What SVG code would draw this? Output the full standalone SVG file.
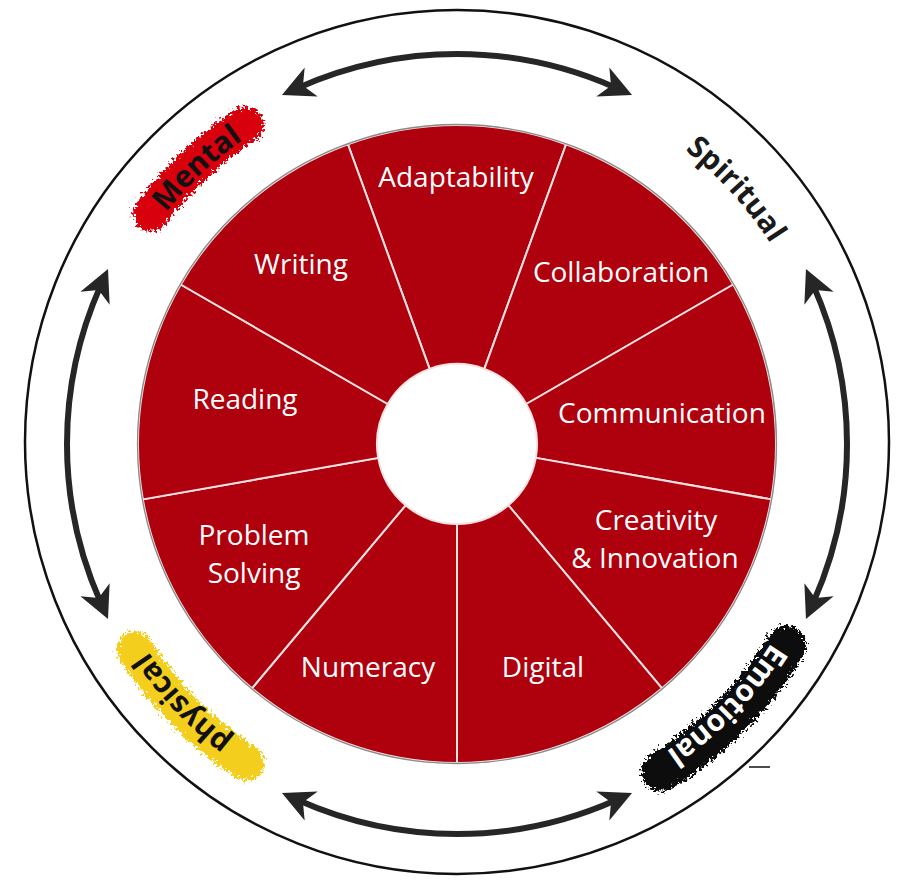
<svg xmlns="http://www.w3.org/2000/svg" width="897" height="880" viewBox="0 0 897 880">
<defs>
<style>
.seg{fill:#AF000D;stroke:#F2E2E2;stroke-width:2}
.lbl{font-family:"Open Sans","Noto Sans",sans-serif;font-size:28px;fill:#fff;text-anchor:middle}
.dim{font-family:"Open Sans","Noto Sans",sans-serif;font-size:30px;font-weight:700;text-anchor:middle}
.arc{fill:none;stroke:#262626;stroke-width:6;marker-start:url(#ah);marker-end:url(#ah)}
.brush{fill:none;stroke-linecap:round;filter:url(#rough)}
</style>
<marker id="ah" markerUnits="userSpaceOnUse" markerWidth="40" markerHeight="40" viewBox="-32 -20 40 40" refX="-16" refY="0" orient="auto-start-reverse" overflow="visible">
<path d="M2,0 L-30,-16 L-21,0 L-30,16 Z" fill="#262626"/>
</marker>
<filter id="rough" x="-30%" y="-30%" width="160%" height="160%">
<feTurbulence type="fractalNoise" baseFrequency="0.35" numOctaves="3" seed="4" result="n"/>
<feDisplacementMap in="SourceGraphic" in2="n" scale="14" xChannelSelector="R" yChannelSelector="G"/>
</filter>
<path id="ring" d="M85,444 A372,372 0 1 1 829,444 A372,372 0 1 1 85,444"/>
</defs>
<rect width="897" height="880" fill="#fff"/>
<circle id="outer-ring" cx="457" cy="442" r="432" fill="none" stroke="#111" stroke-width="2.5"/>

<g id="seg-adaptability"><path class="seg" d="M347.90,144.24 A319,319 0 0 1 566.10,144.24 L484.36,368.82 A80,80 0 0 0 429.64,368.82 Z"/><text class="lbl" x="456" y="187">Adaptability</text></g>
<g id="seg-collaboration"><path class="seg" d="M566.10,144.24 A319,319 0 0 1 733.26,284.50 L526.28,404 A80,80 0 0 0 484.36,368.82 Z"/><text class="lbl" x="621" y="282">Collaboration</text></g>
<g id="seg-communication"><path class="seg" d="M733.26,284.50 A319,319 0 0 1 771.15,499.39 L535.78,457.89 A80,80 0 0 0 526.28,404 Z"/><text class="lbl" x="662" y="423">Communication</text></g>
<g id="seg-creativity"><path class="seg" d="M771.15,499.39 A319,319 0 0 1 662.05,688.37 L508.42,505.28 A80,80 0 0 0 535.78,457.89 Z"/><text class="lbl" x="656" y="530">Creativity</text><text class="lbl" x="655" y="568">&amp; Innovation</text></g>
<g id="seg-digital"><path class="seg" d="M662.05,688.37 A319,319 0 0 1 457,763 L457,524 A80,80 0 0 0 508.42,505.28 Z"/><text class="lbl" x="543" y="677">Digital</text></g>
<g id="seg-numeracy"><path class="seg" d="M457,763 A319,319 0 0 1 251.95,688.37 L405.58,505.28 A80,80 0 0 0 457,524 Z"/><text class="lbl" x="368" y="677">Numeracy</text></g>
<g id="seg-problem-solving"><path class="seg" d="M251.95,688.37 A319,319 0 0 1 142.85,499.39 L378.22,457.89 A80,80 0 0 0 405.58,505.28 Z"/><text class="lbl" x="254" y="545">Problem</text><text class="lbl" x="254" y="583">Solving</text></g>
<g id="seg-reading"><path class="seg" d="M142.85,499.39 A319,319 0 0 1 180.74,284.50 L387.72,404 A80,80 0 0 0 378.22,457.89 Z"/><text class="lbl" x="245" y="409">Reading</text></g>
<g id="seg-writing"><path class="seg" d="M180.74,284.50 A319,319 0 0 1 347.90,144.24 L429.64,368.82 A80,80 0 0 0 387.72,404 Z"/><text class="lbl" x="301" y="274">Writing</text></g>
<circle cx="457" cy="444" r="319.5" fill="none" stroke="#8a8a8a" stroke-width="1.3"/>

<g id="connectors">
<path class="arc" d="M298.4,87.7 A390,390 0 0 1 615.6,87.7"/>
<path class="arc" d="M813.3,285.4 A390,390 0 0 1 813.3,602.6"/>
<path class="arc" d="M615.6,800.3 A390,390 0 0 1 298.4,800.3"/>
<path class="arc" d="M100.7,602.6 A390,390 0 0 1 100.7,285.4"/>
</g>

<g id="mental">
<path class="brush" stroke="#D9000B" stroke-width="36" d="M151.1,213.5 A383,383 0 0 1 245.6,124.6"/>
<text class="dim" fill="#111"><textPath href="#ring" startOffset="303">Mental</textPath></text>
</g>
<g id="spiritual">
<text class="dim" fill="#1a1a1a"><textPath href="#ring" startOffset="893">Spiritual</textPath></text>
</g>
<g id="emotional">
<path class="brush" stroke="#0a0a0a" stroke-width="40" d="M786.1,645.7 A386,386 0 0 1 661.6,771.4"/>
<text class="dim" fill="#fff"><textPath href="#ring" startOffset="1454">Emotional</textPath></text>
<line x1="749" y1="767" x2="770" y2="767" stroke="#111" stroke-width="1.5"/>
</g>
<g id="physical">
<path class="brush" stroke="#F4CE1A" stroke-width="36" d="M246.2,762.6 A382,382 0 0 1 134.8,649.3"/>
<text class="dim" fill="#111"><textPath href="#ring" startOffset="2055">physical</textPath></text>
</g>
</svg>
